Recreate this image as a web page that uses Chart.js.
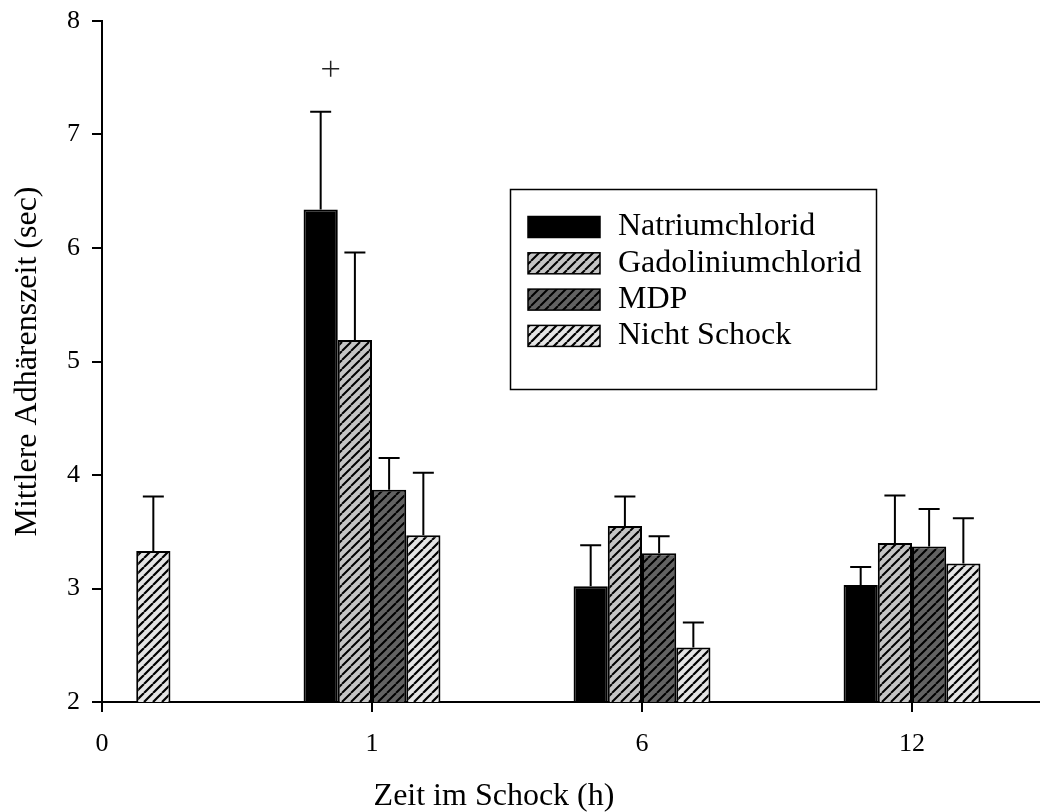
<!DOCTYPE html>
<html>
<head>
<meta charset="utf-8">
<title>Mittlere Adhärenszeit</title>
<script src="https://cdn.jsdelivr.net/npm/chart.js@4.4.0/dist/chart.umd.min.js"></script>
<style>
  html, body { margin: 0; padding: 0; background: #fff; }
  #wrap { width: 1040px; height: 812px; }
</style>
</head>
<body>
<div id="wrap"><canvas id="chart" width="1040" height="812"></canvas></div>
<script>
// x slots on a linear axis, shown with the time labels
const timeSlots = [0, 1, 2, 3];
const timeLabels = ['0', '1', '6', '12'];

const seriesNames = ['Natriumchlorid', 'Gadoliniumchlorid', 'MDP', 'Nicht Schock'];
const natriumchlorid = [null, 6.34, 3.02, 3.03];
const gadoliniumchlorid = [null, 5.19, 3.55, 3.40];
const mdp = [null, 3.87, 3.31, 3.37];
const nichtSchock = [3.33, 3.47, 2.48, 3.22];

// upper error (SEM)
const natriumchloridErr = [null, 0.86, 0.36, 0.16];
const gadoliniumchloridErr = [null, 0.77, 0.26, 0.42];
const mdpErr = [null, 0.28, 0.15, 0.33];
const nichtSchockErr = [0.48, 0.55, 0.22, 0.40];

const yMin = 2;
const yMax = 8;

// "+" significance mark above Natriumchlorid at 1 h
const markSlot = 1;
const markValue = 7.58;

const xTitle = 'Zeit im Schock (h)';
const yTitle = 'Mittlere Adhärenszeit (sec)';
const serif = "'Liberation Serif', 'Times New Roman', serif";

function hatch(bg, size, lw) {
	const c = document.createElement('canvas');
	c.width = size;
	c.height = size;
	const g = c.getContext('2d');
	g.fillStyle = bg;
	g.fillRect(0, 0, size, size);
	g.strokeStyle = '#000';
	g.lineWidth = lw;
	g.beginPath();
	for (let k = -1; k <= 1; k++) {
		g.moveTo(k * size, size);
		g.lineTo(k * size + size, 0);
	}
	g.stroke();
	return g.createPattern(c, 'repeat');
}

const fills = [
	'#000000',
	hatch('#c4c4c4', 9, 2),
	hatch('#626262', 9, 2),
	hatch('#e4e4e4', 9, 2.2),
];
const values = [natriumchlorid, gadoliniumchlorid, mdp, nichtSchock];
const errors = [natriumchloridErr, gadoliniumchloridErr, mdpErr, nichtSchockErr];

const overlay = {
	id: 'overlay',
	afterDatasetsDraw(chart) {
		const { ctx, scales } = chart;
		const y = scales.y;
		ctx.save();

		// error bars, upward only
		ctx.strokeStyle = '#000';
		ctx.lineWidth = 2;
		chart.data.datasets.forEach((ds, i) => {
			const meta = chart.getDatasetMeta(i);
			meta.data.forEach((bar, j) => {
				const v = ds.data[j].y;
				const e = ds.errors[j];
				if (v == null || e == null) return;
				const top = y.getPixelForValue(v + e);
				ctx.beginPath();
				ctx.moveTo(bar.x, bar.y);
				ctx.lineTo(bar.x, top);
				ctx.moveTo(bar.x - 10.5, top);
				ctx.lineTo(bar.x + 10.5, top);
				ctx.stroke();
			});
		});

		// significance mark
		const markBar = chart.getDatasetMeta(0).data[timeSlots.indexOf(markSlot)];
		const mx = markBar.x + 10;
		const my = y.getPixelForValue(markValue);
		ctx.strokeStyle = '#222';
		ctx.lineWidth = 1.5;
		ctx.beginPath();
		ctx.moveTo(mx - 8.5, my);
		ctx.lineTo(mx + 8.5, my);
		ctx.moveTo(mx, my - 8);
		ctx.lineTo(mx, my + 8);
		ctx.stroke();

		// legend box
		ctx.strokeStyle = '#000';
		ctx.lineWidth = 1.5;
		ctx.strokeRect(510.5, 189.5, 366, 200);
		ctx.font = '32px ' + serif;
		ctx.textBaseline = 'middle';
		ctx.textAlign = 'left';
		chart.data.datasets.forEach((ds, i) => {
			const cy = 227 + i * 36.3;
			ctx.fillStyle = ds.backgroundColor;
			ctx.fillRect(528, cy - 10.5, 72, 21);
			ctx.strokeRect(528, cy - 10.5, 72, 21);
			ctx.fillStyle = '#000';
			ctx.fillText(ds.label, 618, cy);
		});

		// x axis title
		ctx.textAlign = 'center';
		ctx.fillStyle = '#000';
		ctx.fillText(xTitle, 494, 797);

		ctx.restore();
	},
};

new Chart(document.getElementById('chart'), {
	type: 'bar',
	data: {
		datasets: values.map((vals, i) => ({
			label: seriesNames[i],
			data: timeSlots.map((x, j) => ({ x, y: vals[j] })),
			errors: errors[i],
			backgroundColor: fills[i],
			borderColor: '#000',
			borderWidth: 2,
			borderSkipped: false,
			categoryPercentage: 0.507,
			barPercentage: 1,
		})),
	},
	options: {
		responsive: false,
		devicePixelRatio: 1,
		animation: false,
		layout: { padding: { top: 21, right: 0, bottom: 0, left: 0 } },
		plugins: {
			legend: { display: false },
			tooltip: { enabled: false },
		},
		scales: {
			x: {
				type: 'linear',
				min: 0,
				max: 3.474,
				offset: false,
				afterBuildTicks: (s) => {
					s.ticks = timeSlots.map((v) => ({ value: v }));
				},
				afterFit: (s) => {
					s.height = 110;
				},
				ticks: {
					callback: (v) => timeLabels[timeSlots.indexOf(v)],
					font: { family: serif, size: 26 },
					color: '#000',
					maxRotation: 0,
					autoSkip: false,
					padding: 17,
				},
				grid: {
					offset: false,
					drawOnChartArea: false,
					drawTicks: true,
					tickLength: 10,
					color: '#000',
					lineWidth: 2,
				},
				border: { color: '#000', width: 2 },
			},
			y: {
				min: yMin,
				max: yMax,
				afterFit: (s) => {
					s.width = 102;
					s.paddingTop = 0;
					s.paddingBottom = 0;
				},
				ticks: {
					stepSize: 1,
					font: { family: serif, size: 26 },
					color: '#000',
					padding: 12,
				},
				grid: {
					drawOnChartArea: false,
					drawTicks: true,
					tickLength: 10,
					color: '#000',
					lineWidth: 2,
				},
				border: { color: '#000', width: 2 },
				title: {
					display: true,
					text: yTitle,
					font: { family: serif, size: 32 },
					color: '#000',
					padding: { top: 8, bottom: 0 },
				},
			},
		},
	},
	plugins: [overlay],
});
</script>
</body>
</html>
